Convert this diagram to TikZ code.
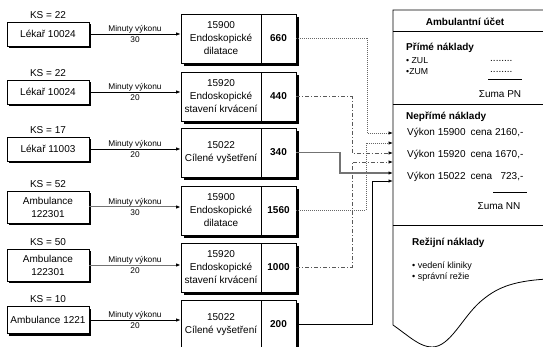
\documentclass[tikz,border=0pt]{standalone}
\usepackage{fontspec}
\setmainfont{Liberation Sans}
\usetikzlibrary{arrows.meta,shadows}

\begin{document}
\begin{tikzpicture}[x=1pt,y=-1pt,
  font=\fontsize{10}{13}\selectfont,
  tip/.style={-{Latex[length=4.5pt,width=3.5pt,color=black]}},
  srcbox/.style={draw, line width=0.8pt, fill=white, minimum width=82pt,
    align=center, inner sep=1pt,
    drop shadow={shadow xshift=2pt, shadow yshift=-2pt, fill=black, opacity=1}},
  actbox/.style={draw, line width=0.8pt, fill=white, minimum width=80pt,
    minimum height=49pt, align=center, inner sep=0pt,
    drop shadow={shadow xshift=3pt, shadow yshift=-3pt, fill=black, opacity=1}},
  numbox/.style={actbox, minimum width=35pt, font=\fontsize{10}{13}\selectfont\bfseries},
  kslab/.style={inner sep=0pt, above=3pt},
  minlab/.style={font=\fontsize{8.3}{11}\selectfont, align=center, inner sep=0pt},
  flow/.style={tip, line width=0.8pt},
  greyflow/.style={tip, line width=1pt, draw=black!55},
  dotlink/.style={tip, line width=0.7pt, draw=black!60, dash pattern=on 1pt off 1pt},
  dashdotlink/.style={tip, line width=0.7pt, draw=black!65, dash pattern=on 4pt off 2pt on 1pt off 2pt},
  greylink/.style={tip, line width=1.2pt, draw=black!55},
  blacklink/.style={tip, line width=0.8pt},
  acct/.style={line width=0.8pt},
  head/.style={inner sep=0pt, anchor=west, font=\fontsize{10}{13}\selectfont\bfseries},
  item/.style={inner sep=0pt, anchor=west},
]
\clip (0,0) rectangle (543,347);

% ---------- cost sources ----------
\node[srcbox, minimum height=24pt] (L1) at (48,34)  {Lékař 10024};
\node[srcbox, minimum height=24pt] (L2) at (48,92)  {Lékař 10024};
\node[srcbox, minimum height=24pt] (L3) at (48,149) {Lékař 11003};
\node[srcbox, minimum height=32pt] (L4) at (48,207) {Ambulance\\122301};
\node[srcbox, minimum height=32pt] (L5) at (48,265) {Ambulance\\122301};
\node[srcbox, minimum height=27pt, inner sep=0pt] (L6) at (48,320) {Ambulance 1221};

\node[kslab] (K1) at (L1.north) {KS = 22};
\node[kslab] (K2) at (L2.north) {KS = 22};
\node[kslab] (K3) at (L3.north) {KS = 17};
\node[kslab] (K4) at (L4.north) {KS = 52};
\node[kslab] (K5) at (L5.north) {KS = 50};
\node[kslab] (K6) at (L6.north) {KS = 10};

% ---------- procedures ----------
\node[actbox] (M1) at (221,38.5)  {15900\\Endoskopické\\dilatace};
\node[numbox] (N1) at (278.5,38.5) {660};
\node[actbox] (M2) at (221,96.5)  {15920\\Endoskopické\\stavení krvácení};
\node[numbox] (N2) at (278.5,96.5) {440};
\node[actbox] (M3) at (221,152.5) {15022\\Cílené vyšetření};
\node[numbox] (N3) at (278.5,152.5) {340};
\node[actbox] (M4) at (221,210.5) {15900\\Endoskopické\\dilatace};
\node[numbox] (N4) at (278.5,210.5) {1560};
\node[actbox] (M5) at (221,267.5) {15920\\Endoskopické\\stavení krvácení};
\node[numbox] (N5) at (278.5,267.5) {1000};
\node[actbox] (M6) at (221,324.5) {15022\\Cílené vyšetření};
\node[numbox] (N6) at (278.5,324.5) {200};

% ---------- minutes of work ----------
\draw[flow] (L1.east) -- node[minlab] {Minuty výkonu\\30} (M1.west |- L1.east);
\draw[flow] (L2.east) -- node[minlab] {Minuty výkonu\\20} (M2.west |- L2.east);
\draw[flow] (L3.east) -- node[minlab] {Minuty výkonu\\20} (M3.west |- L3.east);
\draw[greyflow] (L4.east) -- node[minlab] {Minuty výkonu\\30} (M4.west |- L4.east);
\draw[greyflow] (L5.east) -- node[minlab] {Minuty výkonu\\20} (M5.west |- L5.east);
\draw[flow] (L6.east) -- node[minlab] {Minuty výkonu\\20} (M6.west |- L6.east);

% ---------- account sheet ----------
\draw[acct] (548,10) -- (393,10) -- (393,325)
  .. controls (410,337) and (420,347) .. (432,347)
  .. controls (450,347) and (462,318) .. (480,302)
  .. controls (495,289) and (510,281) .. (548,279);
\draw[line width=1pt] (393,32) -- (548,32);
\draw[acct] (393,104) -- (548,104);
\draw[acct] (393,225) -- (548,225);

\node[font=\fontsize{10}{13}\selectfont\bfseries, inner sep=0pt] (T) at (465,22) {Ambulantní účet};
\node[head] (P) at (406,48) {Přímé náklady};
\node[item, font=\fontsize{8.7}{10}\selectfont] (P1) at (406,61) {• ZUL};
\node[item, font=\fontsize{8.7}{10}\selectfont] (P2) at (406,72) {•ZUM};
\node[item] (D1) at (490,61) {........};
\node[item] (D2) at (490,72) {........};
\draw[line width=0.8pt] (488,79) -- (522,79);
\node[inner sep=0pt] (SP) at (500,94) {Σuma PN};

\node[head] (Q) at (406,117) {Nepřímé náklady};
\node[item] (V1) at (407,133) {Výkon 15900\enspace cena 2160,-};
\node[item] (V2) at (407,155) {Výkon 15920\enspace cena 1670,-};
\node[item] (V3) at (407,177) {Výkon 15022\enspace cena \phantom{2}723,-};
\draw[line width=0.8pt] (493,192) -- (527,192);
\node[inner sep=0pt] (SN) at (499,206) {Σuma NN};

\node[head] (R) at (412,243) {Režijní náklady};
\node[item, font=\fontsize{9}{11}\selectfont] (R1) at (412,266) {• vedení kliniky};
\node[item, font=\fontsize{9}{11}\selectfont] (R2) at (412,277) {• správní režie};

% ---------- entry points and routing columns ----------
\coordinate (e1) at (393,133);
\coordinate (e4) at (393,143);
\coordinate (e2) at (393,153);
\coordinate (e5) at (393,162);
\coordinate (e3) at (393,173);
\coordinate (e6) at (393,181);
\coordinate (xa) at (367,0);
\coordinate (xe) at (366,0);
\coordinate (xb) at (352,0);
\coordinate (xc) at (340,0);
\coordinate (xd) at (372,0);

% ---------- transfers into the account ----------
\draw[dotlink] (N1.east) -- (N1.east -| xa) -- (xa |- e1) -- (e1);
\draw[dotlink] (N4.east) -- (N4.east -| xe) -- (xe |- e4) -- (e4);
\draw[dashdotlink] (N2.east) -- (N2.east -| xb) -- (xb |- e2) -- (e2);
\draw[dashdotlink] (N5.east) -- (N5.east -| xb) -- (xb |- e5) -- (e5);
\draw[greylink] (N3.east) -- (N3.east -| xc) -- (xc |- e3) -- (e3);
\draw[blacklink] (N6.east) -- (N6.east -| xd) -- (xd |- e6) -- (e6);
\end{tikzpicture}
\end{document}
